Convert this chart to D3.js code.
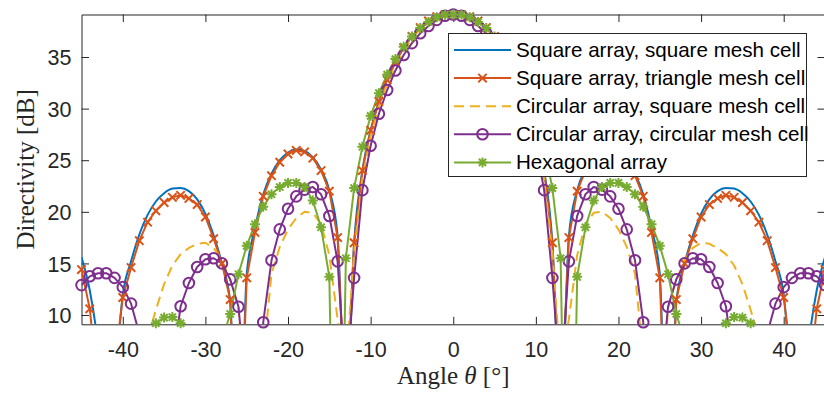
<!DOCTYPE html>
<html>
<head>
<meta charset="utf-8">
<script src="https://cdn.jsdelivr.net/npm/d3@7"></script>
<style>
  body { margin: 0; background: #fff; }
  svg { display: block; }
</style>
</head>
<body>
<svg id="chart" width="824" height="394"></svg>
<script>
// Steering angle grid, one sample per degree
const angleDeg = d3.range(-45, 46);

// Directivity [dB] per array layout
const sqSquare = [15.6, 12.4, 7.0, -3, 3, 12.0, 15.2, 17.8, 19.7, 21.0, 21.8, 22.25, 22.3, 22.0, 21.2, 19.8, 17.7, 15.0, 11.3, -8, 14.0, 18.4, 21.7, 23.7, 25.0, 25.75, 26.05, 25.9, 25.3, 24.1, 22.1, 17.7, 0, 17.0, 24.0, 27.9, 30.7, 32.8, 34.5, 35.9, 37.0, 37.85, 38.5, 38.9, 39.1, 39.12,
  39.1, 38.9, 38.5, 37.85, 37.0, 35.9, 34.5, 32.8, 30.7, 27.9, 24.0, 17.0, 0, 17.7, 22.1, 24.1, 25.3, 25.9, 26.05, 25.75, 25.0, 23.7, 21.7, 18.4, 14.0, -8, 11.3, 15.0, 17.7, 19.8, 21.2, 22.0, 22.3, 22.25, 21.8, 21.0, 19.7, 17.8, 15.2, 12.0, 3, -3, 7.0, 12.4, 15.6];

const sqTriangle = [14.4, 10.6, 3, -3, 5.2, 11.7, 14.6, 17.2, 19.0, 20.1, 20.9, 21.4, 21.6, 21.3, 20.7, 19.5, 17.4, 15.0, 11.5, -8, 13.6, 18.0, 21.5, 23.5, 24.8, 25.6, 25.95, 25.8, 25.2, 24.0, 22.0, 17.5, 0, 17.0, 24.0, 27.9, 30.7, 32.8, 34.5, 35.9, 37.0, 37.85, 38.5, 38.9, 39.1, 39.12,
  39.1, 38.9, 38.5, 37.85, 37.0, 35.9, 34.5, 32.8, 30.7, 27.9, 24.0, 17.0, 0, 17.5, 22.0, 24.0, 25.2, 25.8, 25.95, 25.6, 24.8, 23.5, 21.5, 18.0, 13.6, -8, 11.5, 15.0, 17.4, 19.5, 20.7, 21.3, 21.6, 21.4, 20.9, 20.1, 19.0, 17.2, 14.6, 11.7, 5.2, -3, 3, 10.6, 14.4];

const circSquare = [5, 7, 8, 7, 4, 0, 3, 6, 7.7, 10.5, 13.0, 14.8, 15.9, 16.5, 16.9, 17.0, 16.5, 15.3, 13.4, 10.7, -2, -6, 5.8, 14.0, 16.6, 18.3, 19.4, 20.0, 19.9, 18.8, 15.8, 9.6, 5, 16.0, 23.2, 27.3, 30.2, 32.4, 34.2, 35.6, 36.8, 37.7, 38.4, 38.85, 39.1, 39.12,
  39.1, 38.85, 38.4, 37.7, 36.8, 35.6, 34.2, 32.4, 30.2, 27.3, 23.2, 16.0, 5, 9.6, 15.8, 18.8, 19.9, 20.0, 19.4, 18.3, 16.6, 14.0, 5.8, -6, -2, 10.7, 13.4, 15.3, 16.5, 17.0, 16.9, 16.5, 15.9, 14.8, 13.0, 10.5, 7.7, 6, 3, 0, 4, 7, 8, 7, 5];

const circCircular = [12.9, 13.75, 14.05, 14.05, 13.6, 12.7, 11.1, 8.2, 2, -5, 0, 5, 10.85, 13.1, 14.65, 15.4, 15.5, 15.0, 13.45, 10.8, 2.3, -15, 9.3, 15.3, 18.3, 20.3, 21.5, 22.15, 22.4, 21.7, 19.6, 15.2, 3.0, 13.6, 22.1, 26.4, 29.5, 31.8, 33.7, 35.2, 36.35, 37.3, 38.0, 38.6, 39.0, 39.12,
  39.0, 38.6, 38.0, 37.3, 36.35, 35.2, 33.7, 31.8, 29.5, 26.4, 22.1, 13.6, 3.0, 15.2, 19.6, 21.7, 22.4, 22.15, 21.5, 20.3, 18.3, 15.3, 9.3, -15, 2.3, 10.8, 13.45, 15.0, 15.5, 15.4, 14.65, 13.1, 10.85, 5, 0, -5, 2, 8.2, 11.1, 12.7, 13.6, 14.05, 14.05, 13.75, 12.9];

const hexagonal = [4, 2, -2, 0, 3, 2, -3, 3, 7, 9.2, 9.75, 9.8, 9.2, 5, 2, -4, 2, 7.5, 10.1, 13.95, 16.7, 18.8, 20.5, 21.7, 22.4, 22.8, 22.8, 22.4, 21.1, 18.5, 13.7, -30, 15.5, 22.3, 26.3, 29.3, 31.5, 33.3, 34.8, 36.0, 37.0, 37.8, 38.4, 38.85, 39.1, 39.12,
  39.1, 38.85, 38.4, 37.8, 37.0, 36.0, 34.8, 33.3, 31.5, 29.3, 26.3, 22.3, 15.5, -30, 13.7, 18.5, 21.1, 22.4, 22.8, 22.8, 22.4, 21.7, 20.5, 18.8, 16.7, 13.95, 10.1, 7.5, 2, -4, 2, 5, 9.2, 9.8, 9.75, 9.2, 7, 3, -3, 2, 3, 0, -2, 2, 4];

const seriesNames = [
  "Square array, square mesh cell",
  "Square array, triangle mesh cell",
  "Circular array, square mesh cell",
  "Circular array, circular mesh cell",
  "Hexagonal array"
];

const xTicks = [-40, -30, -20, -10, 0, 10, 20, 30, 40];
const yTicks = [10, 15, 20, 25, 30, 35];
const xLabel = "Angle";
const yLabel = "Directivity [dB]";

// ---- styling ----
const series = [
  { name: seriesNames[0], values: sqSquare,    color: "#0072BD", marker: null,     dash: null,   curve: d3.curveMonotoneX },
  { name: seriesNames[1], values: sqTriangle,  color: "#D95319", marker: "x",      dash: null,   curve: d3.curveLinear },
  { name: seriesNames[2], values: circSquare,  color: "#EDB120", marker: null,     dash: "10,6", curve: d3.curveLinear },
  { name: seriesNames[3], values: circCircular,color: "#7E2F8E", marker: "circle", dash: null,   curve: d3.curveLinear },
  { name: seriesNames[4], values: hexagonal,   color: "#77AC30", marker: "star",   dash: null,   curve: d3.curveLinear }
];

const axisColor = "#262626";
const sansFont = "'Liberation Sans', Arial, Helvetica, sans-serif";
const serifFont = "'Liberation Serif', 'Times New Roman', serif";

const svg = d3.select("#chart");
const plot = { left: 81.5, right: 825, top: 14.5, bottom: 324.3 };

const x = d3.scaleLinear().domain([-45, 45]).range([plot.left, plot.right]);
const y = d3.scaleLinear().domain([9.1, 39.12]).range([plot.bottom, plot.top]);

svg.append("defs").append("clipPath").attr("id", "plotClip")
  .append("rect")
  .attr("x", plot.left).attr("y", plot.top)
  .attr("width", plot.right - plot.left).attr("height", plot.bottom - plot.top);

// ---- axes (inward ticks, boxed) ----
const tickLen = 7.5;
const fmt = d => String(d);

const gx = svg.append("g").attr("transform", `translate(0,${plot.bottom})`)
  .call(d3.axisBottom(x).tickValues(xTicks).tickFormat(fmt).tickSize(-tickLen).tickSizeOuter(0).tickPadding(17.5));
const gxTop = svg.append("g").attr("transform", `translate(0,${plot.top})`)
  .call(d3.axisTop(x).tickValues(xTicks).tickFormat("").tickSize(-tickLen).tickSizeOuter(0));
const gy = svg.append("g").attr("transform", `translate(${plot.left},0)`)
  .call(d3.axisLeft(y).tickValues(yTicks).tickFormat(fmt).tickSize(-tickLen).tickSizeOuter(0).tickPadding(10));
const gyRight = svg.append("g").attr("transform", `translate(${plot.right},0)`)
  .call(d3.axisRight(y).tickValues(yTicks).tickFormat("").tickSize(-tickLen).tickSizeOuter(0));

[gx, gxTop, gy, gyRight].forEach(g => {
  g.selectAll("path.domain").attr("stroke", axisColor).attr("stroke-width", 1);
  g.selectAll(".tick line").attr("stroke", axisColor).attr("stroke-width", 1);
  g.selectAll(".tick text")
    .attr("fill", axisColor)
    .style("font-family", sansFont)
    .style("font-size", "21.5px");
});
gy.selectAll(".tick text").attr("dy", "0.36em");

// ---- series lines ----
const lineLayer = svg.append("g").attr("clip-path", "url(#plotClip)");
series.forEach(s => {
  const line = d3.line()
    .x((d, i) => x(angleDeg[i]))
    .y(d => y(d))
    .curve(s.curve);
  lineLayer.append("path")
    .datum(s.values)
    .attr("d", line)
    .attr("fill", "none")
    .attr("stroke", s.color)
    .attr("stroke-width", 2)
    .attr("stroke-linejoin", "round")
    .attr("stroke-dasharray", s.dash);
});

// ---- markers ----
function drawMarker(g, type, cx, cy, color) {
  if (type === "circle") {
    g.append("circle").attr("cx", cx).attr("cy", cy).attr("r", 5.3)
      .attr("fill", "none").attr("stroke", color).attr("stroke-width", 2);
  } else if (type === "x") {
    const s = 4.2;
    g.append("path")
      .attr("d", `M${cx - s},${cy - s}L${cx + s},${cy + s}M${cx - s},${cy + s}L${cx + s},${cy - s}`)
      .attr("stroke", color).attr("stroke-width", 2).attr("fill", "none");
  } else if (type === "star") {
    const s = 5, d = 3.6;
    g.append("path")
      .attr("d", `M${cx - s},${cy}L${cx + s},${cy}M${cx},${cy - s}L${cx},${cy + s}` +
                 `M${cx - d},${cy - d}L${cx + d},${cy + d}M${cx - d},${cy + d}L${cx + d},${cy - d}`)
      .attr("stroke", color).attr("stroke-width", 2).attr("fill", "none");
  }
}

const markerLayer = svg.append("g");
const [yMin, yMax] = y.domain();
series.forEach(s => {
  if (!s.marker) return;
  s.values.forEach((v, i) => {
    if (v < yMin - 1e-9 || v > yMax + 1e-9) return;
    drawMarker(markerLayer, s.marker, x(angleDeg[i]), y(v), s.color);
  });
});

// ---- axis titles ----
const xt = svg.append("text")
  .attr("x", (plot.left + plot.right) / 2)
  .attr("y", 384)
  .attr("text-anchor", "middle")
  .attr("fill", axisColor)
  .style("font-family", serifFont)
  .style("font-size", "25px");
xt.append("tspan").text(xLabel + " ");
xt.append("tspan").style("font-style", "italic").text("θ");
xt.append("tspan").text(" [°]");

svg.append("text")
  .attr("transform", `translate(34,${(plot.top + plot.bottom) / 2}) rotate(-90)`)
  .attr("text-anchor", "middle")
  .attr("fill", axisColor)
  .style("font-family", serifFont)
  .style("font-size", "25px")
  .text(yLabel);

// ---- legend ----
const legend = svg.append("g");
const lg = { x: 448.5, y: 33.5, w: 358, h: 143, rowY0: 50, rowStep: 28.1 };
legend.append("rect")
  .attr("x", lg.x).attr("y", lg.y).attr("width", lg.w).attr("height", lg.h)
  .attr("fill", "#fff").attr("stroke", axisColor).attr("stroke-width", 1);

series.forEach((s, i) => {
  const ry = lg.rowY0 + i * lg.rowStep;
  legend.append("line")
    .attr("x1", 454).attr("x2", 511).attr("y1", ry).attr("y2", ry)
    .attr("stroke", s.color).attr("stroke-width", 2)
    .attr("stroke-dasharray", s.dash);
  if (s.marker) drawMarker(legend, s.marker, 482.5, ry, s.color);
  legend.append("text")
    .attr("x", 516).attr("y", ry + 7)
    .attr("fill", "#000")
    .style("font-family", sansFont)
    .style("font-size", "20.6px")
    .text(s.name);
});
</script>
</body>
</html>
